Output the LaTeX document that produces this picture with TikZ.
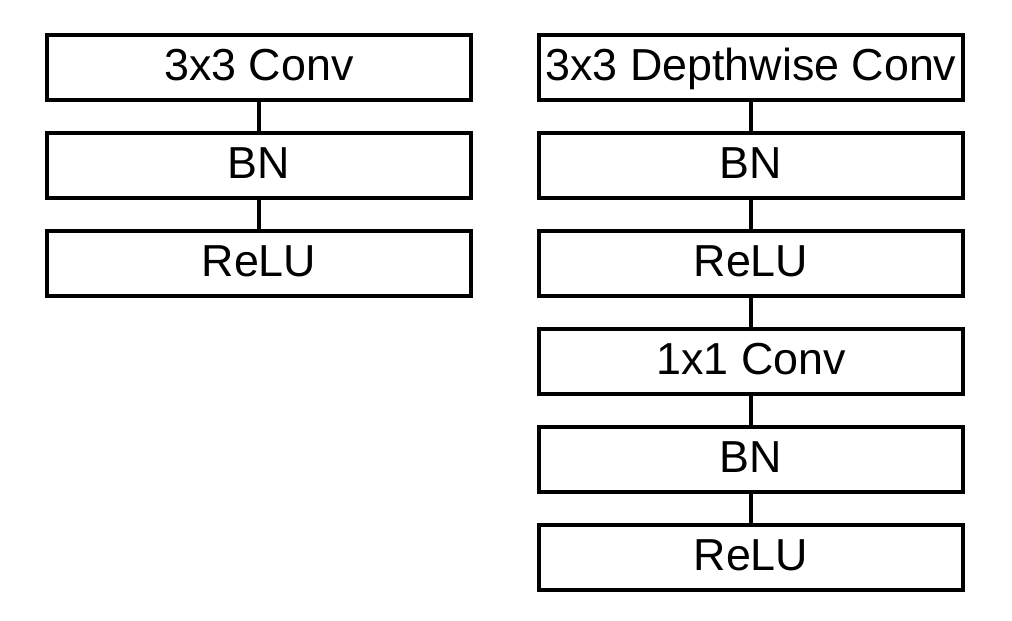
\documentclass[tikz,border=0pt]{standalone}
\usepackage{fontspec}
\setmainfont{Liberation Sans}
\usepackage{tikz}
\usetikzlibrary{positioning}

\begin{document}
\begin{tikzpicture}[
    layer/.style={draw, line width=1.9pt, minimum width=8.48cm, minimum height=1.3cm,
        inner sep=0pt, outer sep=0pt, text height=19pt, text depth=4pt,
        font=\fontsize{25.5}{29}\selectfont},
    link/.style={line width=1.9pt},
    node distance=0.66cm
]
    \useasboundingbox (0, 0) rectangle (20.24, 12.4);

    % 标准卷积
    \node[layer] (conv) at (5.18, 11.05) {3x3 Conv};
    \node[layer, below=of conv] (bn) {BN};
    \node[layer, below=of bn] (relu) {ReLU};
    \draw[link] (conv) -- (bn);
    \draw[link] (bn) -- (relu);

    % 深度可分离卷积
    \node[layer] (dw) at (15.02, 11.05) {3x3 Depthwise Conv};
    \node[layer, below=of dw] (dwbn) {BN};
    \node[layer, below=of dwbn] (dwrelu) {ReLU};
    \node[layer, below=of dwrelu] (pw) {1x1 Conv};
    \node[layer, below=of pw] (pwbn) {BN};
    \node[layer, below=of pwbn] (pwrelu) {ReLU};
    \draw[link] (dw) -- (dwbn);
    \draw[link] (dwbn) -- (dwrelu);
    \draw[link] (dwrelu) -- (pw);
    \draw[link] (pw) -- (pwbn);
    \draw[link] (pwbn) -- (pwrelu);
\end{tikzpicture}
\end{document}
